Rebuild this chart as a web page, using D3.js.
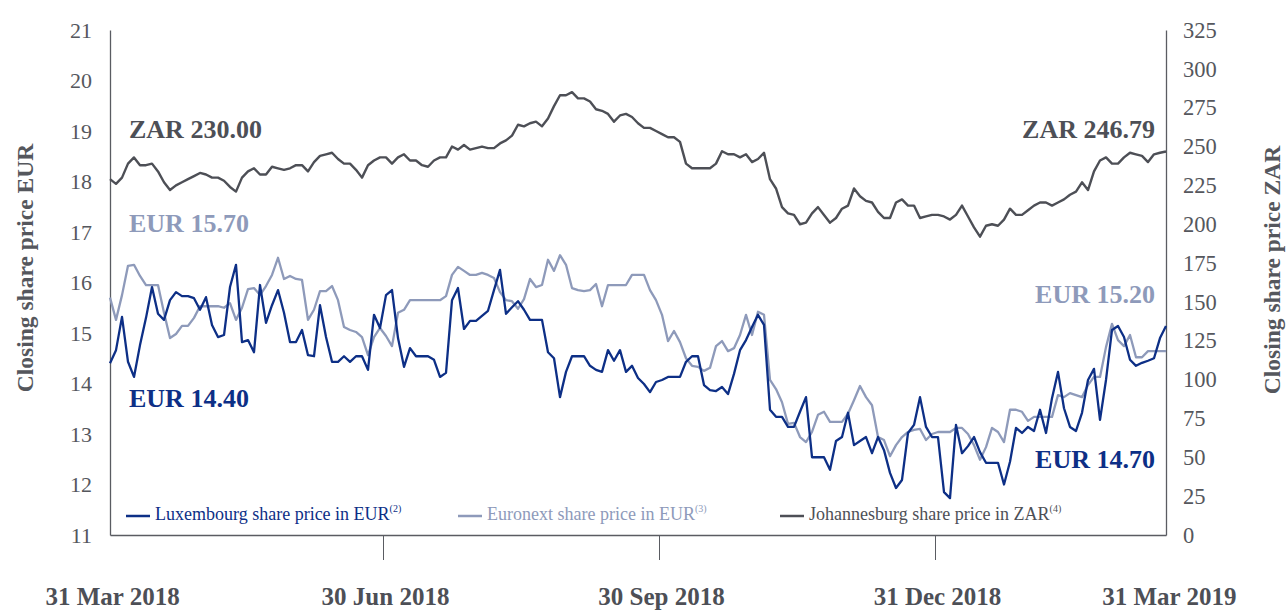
<!DOCTYPE html>
<html>
<head>
<meta charset="utf-8">
<script src="https://cdn.jsdelivr.net/npm/d3@7"></script>
<style>
  body { margin: 0; background: #fff; }
  text { font-family: "Liberation Serif", "DejaVu Serif", serif; }
</style>
</head>
<body>
<div id="chart"></div>
<script>
// share prices, one value per sample step across the year
const luxembourg = [
  14.40, 14.66, 15.32, 14.43, 14.13, 14.76, 15.30, 15.91, 15.38, 15.26,
  15.65, 15.81, 15.73, 15.73, 15.69, 15.46, 15.71, 15.16, 14.92, 14.96,
  15.91, 16.35, 14.82, 14.86, 14.62, 15.95, 15.20, 15.55, 15.85, 15.40,
  14.82, 14.82, 15.06, 14.56, 14.54, 15.55, 14.92, 14.43, 14.43, 14.54,
  14.43, 14.54, 14.54, 14.27, 15.36, 15.10, 15.75, 15.85, 14.90, 14.33,
  14.70, 14.54, 14.54, 14.54, 14.47, 14.13, 14.21, 15.65, 15.89, 15.08,
  15.24, 15.24, 15.34, 15.44, 15.85, 16.25, 15.38, 15.51, 15.63, 15.46,
  15.26, 15.26, 15.26, 14.62, 14.50, 13.73, 14.23, 14.54, 14.54, 14.54,
  14.35, 14.27, 14.23, 14.66, 14.45, 14.66, 14.23, 14.35, 14.11, 13.99,
  13.83, 14.03, 14.07, 14.13, 14.13, 14.13, 14.43, 14.54, 14.54, 13.97,
  13.87, 13.85, 13.93, 13.79, 14.19, 14.66, 14.86, 15.12, 15.36, 15.16,
  13.48, 13.34, 13.34, 13.14, 13.14, 13.44, 13.73, 12.54, 12.54, 12.54,
  12.29, 12.86, 12.94, 13.42, 12.78, 12.86, 12.94, 12.62, 12.94, 12.68,
  12.23, 11.93, 12.09, 13.02, 13.18, 13.73, 13.14, 12.94, 12.94, 11.85,
  11.73, 13.18, 12.62, 12.76, 12.94, 12.64, 12.43, 12.43, 12.43, 12.00,
  12.45, 13.12, 13.02, 13.14, 13.06, 13.48, 13.02, 13.71, 14.23, 13.51,
  13.14, 13.06, 13.42, 14.07, 14.29, 13.28, 14.07, 15.06, 15.14, 14.92,
  14.47, 14.35, 14.41, 14.45, 14.50, 14.90, 15.14
]

const euronext = [
  15.70, 15.26, 15.75, 16.33, 16.35, 16.13, 15.95, 15.95, 15.95, 15.40,
  14.90, 14.98, 15.14, 15.14, 15.30, 15.53, 15.53, 15.53, 15.53, 15.50,
  15.59, 15.26, 15.50, 15.87, 15.89, 15.75, 15.93, 16.15, 16.49, 16.07,
  16.13, 16.07, 16.05, 15.26, 15.46, 15.83, 15.83, 15.93, 15.65, 15.12,
  15.06, 15.02, 14.92, 14.56, 14.92, 15.10, 14.94, 14.74, 15.40, 15.46,
  15.65, 15.65, 15.65, 15.65, 15.65, 15.65, 15.73, 16.15, 16.31, 16.23,
  16.15, 16.15, 16.19, 16.15, 16.09, 15.81, 15.65, 15.63, 15.48, 15.67,
  16.07, 15.91, 15.95, 16.45, 16.23, 16.54, 16.35, 15.89, 15.85, 15.83,
  15.85, 15.97, 15.53, 15.95, 15.95, 15.95, 15.95, 16.15, 16.15, 16.15,
  15.85, 15.65, 15.36, 14.84, 15.04, 14.82, 14.50, 14.35, 14.33, 14.25,
  14.31, 14.74, 14.84, 14.64, 14.70, 14.96, 15.36, 14.96, 15.42, 15.36,
  14.07, 13.89, 13.63, 13.20, 13.22, 12.94, 12.84, 13.04, 13.38, 13.44,
  13.24, 13.24, 13.24, 13.40, 13.67, 13.95, 13.73, 13.57, 12.94, 12.88,
  12.56, 12.78, 12.94, 13.04, 13.08, 13.10, 12.88, 13.00, 13.04, 13.04,
  13.04, 13.12, 13.12, 13.00, 12.78, 12.49, 12.74, 13.12, 13.04, 12.84,
  13.48, 13.48, 13.44, 13.26, 13.34, 13.34, 13.34, 13.34, 13.77, 13.73,
  13.81, 13.77, 13.73, 13.97, 14.13, 14.13, 14.72, 15.18, 14.86, 14.74,
  14.96, 14.52, 14.52, 14.64, 14.64, 14.64, 14.64
]

const johannesburg = [
  229, 226, 230, 239, 243, 238, 238, 239, 234, 227,
  222, 225, 227, 229, 231, 233, 232, 230, 230, 228,
  224, 221, 230, 234, 236, 232, 232, 237, 236, 235,
  236, 238, 238, 234, 240, 244, 245, 246, 242, 239,
  239, 235, 230, 238, 241, 243, 243, 239, 243, 245,
  241, 241, 238, 237, 241, 243, 243, 250, 248, 251,
  248, 249, 250, 249, 249, 252, 254, 257, 264, 263,
  265, 266, 263, 268, 276, 283, 283, 285, 281, 281,
  279, 274, 273, 271, 266, 270, 271, 269, 265, 262,
  262, 260, 258, 256, 256, 253, 239, 236, 236, 236,
  236, 239, 247, 245, 245, 243, 245, 240, 242, 246,
  229, 223, 211, 207, 206, 200, 201, 207, 211, 206,
  201, 204, 210, 212, 223, 218, 215, 214, 208, 204,
  204, 214, 216, 212, 212, 204, 205, 206, 206, 205,
  203, 206, 212, 205, 198, 192, 199, 200, 199, 203,
  210, 206, 206, 209, 212, 214, 214, 212, 214, 216,
  219, 221, 227, 222, 234, 241, 243, 239, 239, 243,
  246, 245, 244, 240, 245, 246, 246.79
]

const tickSteps = [0, 45.5, 91.5, 137.5, 176]
const tickLabels = ["31 Mar 2018", "30 Jun 2018", "30 Sep 2018", "31 Dec 2018", "31 Mar 2019"]
const eurTicks = d3.range(11, 22, 1)
const zarTicks = d3.range(0, 326, 25)

const endLabels = [
  {text: "ZAR 230.00", color: "#4d4f56", side: "start", x: 0, y: 132},
  {text: "ZAR 246.79", color: "#4d4f56", side: "end", x: 176, y: 132},
  {text: "EUR 15.70", color: "#8e9aba", side: "start", x: 0, y: 226},
  {text: "EUR 14.40", color: "#0d2f86", side: "start", x: 0, y: 401},
  {text: "EUR 15.20", color: "#8e9aba", side: "end", x: 176, y: 297},
  {text: "EUR 14.70", color: "#0d2f86", side: "end", x: 176, y: 462}
]

const legendItems = [
  {name: "Luxembourg share price in EUR", note: "(2)", color: "#0d2f86", text: "#0d2f86"},
  {name: "Euronext share price in EUR", note: "(3)", color: "#8e9aba", text: "#8e9aba"},
  {name: "Johannesburg share price in ZAR", note: "(4)", color: "#4d4f56", text: "#4d4f56"}
]

const width = 1288,
      height = 613,
      margin = {top: 30, right: 122, bottom: 77, left: 110}

const x = d3.scaleLinear()
    .domain([0, luxembourg.length - 1])
    .range([margin.left, width - margin.right])

const yEur = d3.scaleLinear()
    .domain([11, 21])
    .range([height - margin.bottom - 1, margin.top])

const yZar = d3.scaleLinear()
    .domain([0, 325])
    .range([height - margin.bottom - 1, margin.top])

const svg = d3.select("#chart")
  .append("svg")
  .attr("width", width)
  .attr("height", height)
  .attr("viewBox", [0, 0, width, height])

const axisColor = "#5a5c62"

// left axis
svg.append("g")
  .attr("transform", `translate(${margin.left},0)`)
  .call(d3.axisLeft(yEur).tickValues(eurTicks).tickSize(0).tickPadding(18))
  .call(g => g.select(".domain").attr("stroke", axisColor).attr("stroke-width", 1.3))
  .call(g => g.selectAll("text")
      .attr("fill", "#55575d")
      .attr("font-size", 22)
      .attr("font-family", "Liberation Serif"))

// right axis
svg.append("g")
  .attr("transform", `translate(${width - margin.right},0)`)
  .call(d3.axisRight(yZar).tickValues(zarTicks).tickSize(0).tickPadding(17))
  .call(g => g.select(".domain").attr("stroke", axisColor).attr("stroke-width", 1.3))
  .call(g => g.selectAll("text")
      .attr("fill", "#55575d")
      .attr("font-size", 22.5)
      .attr("font-family", "Liberation Serif"))

// bottom axis with ticks between quarters only
svg.append("g")
  .attr("transform", `translate(0,${height - margin.bottom - 1})`)
  .call(d3.axisBottom(x).tickValues(tickSteps).tickSize(0)
      .tickFormat((d, i) => tickLabels[i]))
  .call(g => g.select(".domain").attr("stroke", axisColor).attr("stroke-width", 1.3))
  .call(g => g.selectAll(".tick line")
      .attr("y2", (d, i) => (i === 0 || i === tickSteps.length - 1) ? 0 : 25)
      .attr("stroke", axisColor))
  .call(g => g.selectAll(".tick text")
      .attr("y", 70)
      .attr("dy", null)
      .attr("fill", "#4d4f56")
      .attr("font-size", 25)
      .attr("font-weight", "bold")
      .attr("font-family", "Liberation Serif")
      .attr("text-anchor", (d, i) => i === 0 ? "start" : (i === tickSteps.length - 1 ? "end" : "middle"))
      .attr("dx", (d, i) => i === 0 ? -65 : (i === tickSteps.length - 1 ? 70 : 2)))

// axis titles
svg.append("text")
  .attr("transform", "translate(33,268) rotate(-90)")
  .attr("text-anchor", "middle")
  .attr("font-size", 23.5)
  .attr("font-weight", "bold")
  .attr("fill", "#55575d")
  .text("Closing share price EUR")

svg.append("text")
  .attr("transform", "translate(1280,270) rotate(-90)")
  .attr("text-anchor", "middle")
  .attr("font-size", 23.5)
  .attr("font-weight", "bold")
  .attr("fill", "#55575d")
  .text("Closing share price ZAR")

// lines
const lineEur = d3.line()
    .x((d, i) => x(i))
    .y(d => yEur(d))

const lineZar = d3.line()
    .x((d, i) => x(i))
    .y(d => yZar(d))

svg.append("path")
  .datum(johannesburg)
  .attr("fill", "none")
  .attr("stroke", "#4d4f56")
  .attr("stroke-width", 2.4)
  .attr("stroke-linejoin", "round")
  .attr("d", lineZar)

svg.append("path")
  .datum(euronext)
  .attr("fill", "none")
  .attr("stroke", "#8e9aba")
  .attr("stroke-width", 2.3)
  .attr("stroke-linejoin", "round")
  .attr("d", lineEur)

svg.append("path")
  .datum(luxembourg)
  .attr("fill", "none")
  .attr("stroke", "#0d2f86")
  .attr("stroke-width", 2.3)
  .attr("stroke-linejoin", "round")
  .attr("d", lineEur)

// start / end price labels
svg.append("g")
  .selectAll("text")
  .data(endLabels)
  .join("text")
    .attr("x", d => d.side === "start" ? x(d.x) + 19 : x(d.x) - 11)
    .attr("y", d => d.y)
    .attr("text-anchor", d => d.side)
    .attr("dominant-baseline", "middle")
    .attr("font-size", 26)
    .attr("font-weight", "bold")
    .attr("fill", d => d.color)
    .text(d => d.text)

// legend
const legendX = [126, 458, 780]
const legend = svg.append("g")
  .attr("transform", `translate(0,516)`)

const item = legend.selectAll("g")
  .data(legendItems)
  .join("g")
    .attr("transform", (d, i) => `translate(${legendX[i]},0)`)

item.append("line")
  .attr("x1", 0)
  .attr("x2", 24)
  .attr("stroke", d => d.color)
  .attr("stroke-width", 2.5)

const label = item.append("text")
  .attr("x", 29)
  .attr("dominant-baseline", "middle")
  .attr("font-size", 18)
  .attr("fill", d => d.text)

label.append("tspan").text(d => d.name)
label.append("tspan")
  .attr("font-size", 10)
  .attr("dy", -6)
  .text(d => d.note)
</script>
</body>
</html>
